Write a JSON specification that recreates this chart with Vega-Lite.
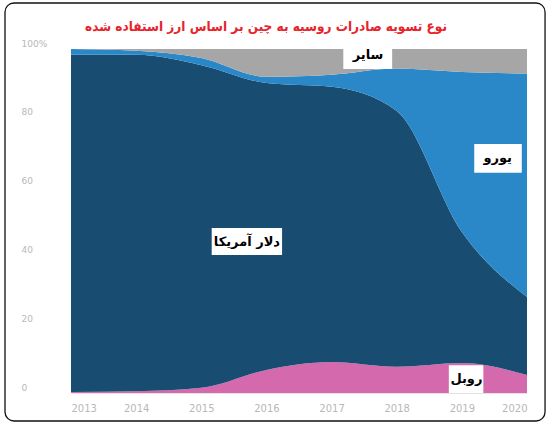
{
  "$schema": "https://vega.github.io/schema/vega-lite/v6.json",
  "width": 456,
  "height": 344,
  "autosize": {"type": "none"},
  "padding": {"left": 71, "top": 49, "right": 21, "bottom": 31},
  "background": "white",
  "title": {
    "text": "نوع تسویه صادرات روسیه به چین بر اساس ارز استفاده شده",
    "font": "DejaVu Sans Condensed",
    "fontSize": 13.5,
    "fontWeight": "bold",
    "color": "#e8232b",
    "anchor": "middle",
    "frame": "group",
    "baseline": "bottom",
    "dx": -33,
    "offset": -45
  },
  "config": {
    "view": {"stroke": null},
    "font": "DejaVu Sans"
  },
  "datasets": {
    "shares": [
      {"year": 2013, "series": "روبل", "rank": 1, "share": 0.3},
      {"year": 2014, "series": "روبل", "rank": 1, "share": 0.5},
      {"year": 2015, "series": "روبل", "rank": 1, "share": 1.5},
      {"year": 2016, "series": "روبل", "rank": 1, "share": 6.7},
      {"year": 2017, "series": "روبل", "rank": 1, "share": 9.0},
      {"year": 2018, "series": "روبل", "rank": 1, "share": 7.6},
      {"year": 2019, "series": "روبل", "rank": 1, "share": 8.7},
      {"year": 2020, "series": "روبل", "rank": 1, "share": 5.2},
      {"year": 2013, "series": "دلار آمریکا", "rank": 2, "share": 98.0},
      {"year": 2014, "series": "دلار آمریکا", "rank": 2, "share": 97.8},
      {"year": 2015, "series": "دلار آمریکا", "rank": 2, "share": 93.8},
      {"year": 2016, "series": "دلار آمریکا", "rank": 2, "share": 83.4},
      {"year": 2017, "series": "دلار آمریکا", "rank": 2, "share": 80.0},
      {"year": 2018, "series": "دلار آمریکا", "rank": 2, "share": 74.4},
      {"year": 2019, "series": "دلار آمریکا", "rank": 2, "share": 38.1},
      {"year": 2020, "series": "دلار آمریکا", "rank": 2, "share": 22.7},
      {"year": 2013, "series": "یورو", "rank": 3, "share": 1.7},
      {"year": 2014, "series": "یورو", "rank": 3, "share": 1.2},
      {"year": 2015, "series": "یورو", "rank": 3, "share": 2.1},
      {"year": 2016, "series": "یورو", "rank": 3, "share": 1.8},
      {"year": 2017, "series": "یورو", "rank": 3, "share": 3.5},
      {"year": 2018, "series": "یورو", "rank": 3, "share": 12.3},
      {"year": 2019, "series": "یورو", "rank": 3, "share": 46.5},
      {"year": 2020, "series": "یورو", "rank": 3, "share": 65.0},
      {"year": 2013, "series": "سایر", "rank": 4, "share": 0.0},
      {"year": 2014, "series": "سایر", "rank": 4, "share": 0.5},
      {"year": 2015, "series": "سایر", "rank": 4, "share": 2.6},
      {"year": 2016, "series": "سایر", "rank": 4, "share": 8.1},
      {"year": 2017, "series": "سایر", "rank": 4, "share": 7.5},
      {"year": 2018, "series": "سایر", "rank": 4, "share": 5.7},
      {"year": 2019, "series": "سایر", "rank": 4, "share": 6.7},
      {"year": 2020, "series": "سایر", "rank": 4, "share": 7.1}
    ],
    "labels": [
      {"name": "سایر", "x": 2017.56, "x1": 2017.18, "x2": 2017.93, "y": 98.3, "y1": 102.6, "y2": 94.2},
      {"name": "یورو", "x": 2019.55, "x1": 2019.19, "x2": 2019.92, "y": 68.2, "y1": 72.4, "y2": 64.0},
      {"name": "دلار آمریکا", "x": 2015.70, "x1": 2015.16, "x2": 2016.24, "y": 44.0, "y1": 48.0, "y2": 40.1},
      {"name": "روبل", "x": 2019.07, "x1": 2018.80, "x2": 2019.33, "y": 4.1, "y1": 8.1, "y2": 0.0}
    ],
    "frame": [
      {"x1": 2011.987, "x2": 2020.277, "y1": 113.37, "y2": -8.14}
    ]
  },
  "layer": [
    {
      "data": {"name": "shares"},
      "mark": {"type": "area", "interpolate": "monotone"},
      "encoding": {
        "x": {
          "field": "year", "type": "quantitative",
          "scale": {"domain": [2013, 2020], "nice": false, "zero": false},
          "axis": {
            "title": null, "values": [2013, 2014, 2015, 2016, 2017, 2018, 2019, 2020],
            "format": "d", "grid": false, "ticks": false,
            "domain": true, "domainColor": "#e3e3e3", "domainWidth": 1,
            "labelColor": "#b8b8b8", "labelFontSize": 10, "labelPadding": 10,
            "labelFont": "DejaVu Sans"
          }
        },
        "y": {
          "field": "share", "type": "quantitative", "stack": "zero",
          "scale": {"domain": [0, 100], "nice": false},
          "axis": {
            "title": null, "values": [0, 10, 20, 30, 40, 50, 60, 70, 80, 90, 100],
            "labelExpr": "datum.value == 100 ? '100%' : datum.label",
            "grid": false, "ticks": false, "domain": false,
            "labelColor": "#b8b8b8", "labelFontSize": 9, "labelAlign": "left",
            "labelPadding": 50, "labelOffset": -6, "labelFont": "DejaVu Sans"
          }
        },
        "color": {
          "field": "series", "type": "nominal",
          "scale": {
            "domain": ["روبل", "دلار آمریکا", "یورو", "سایر"],
            "range": ["#d46aad", "#184d71", "#2a88c8", "#a6a6a6"]
          },
          "legend": null
        },
        "order": {"field": "rank", "type": "quantitative", "sort": "ascending"}
      }
    },
    {
      "data": {"name": "frame"},
      "mark": {"type": "rect", "fillOpacity": 0, "stroke": "#111111", "strokeWidth": 1.3, "cornerRadius": 9},
      "encoding": {
        "x": {"field": "x1", "type": "quantitative"},
        "x2": {"field": "x2"},
        "y": {"field": "y1", "type": "quantitative"},
        "y2": {"field": "y2"}
      }
    },
    {
      "data": {"name": "labels"},
      "mark": {"type": "rect", "fill": "white"},
      "encoding": {
        "x": {"field": "x1", "type": "quantitative"},
        "x2": {"field": "x2"},
        "y": {"field": "y1", "type": "quantitative"},
        "y2": {"field": "y2"}
      }
    },
    {
      "data": {"name": "labels"},
      "mark": {"type": "text", "font": "DejaVu Sans", "fontSize": 13, "fontWeight": "bold", "color": "black", "align": "center", "baseline": "middle"},
      "encoding": {
        "x": {"field": "x", "type": "quantitative"},
        "y": {"field": "y", "type": "quantitative"},
        "text": {"field": "name"}
      }
    }
  ]
}
